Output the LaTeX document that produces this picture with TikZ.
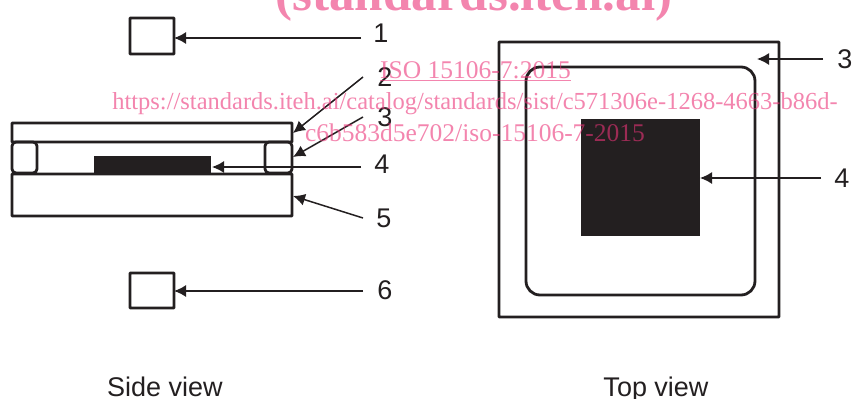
\documentclass[tikz,border=0pt]{standalone}
\usepackage{fontspec}
\setmainfont{Liberation Sans}
\newfontfamily\wmfont{Liberation Serif}
\usetikzlibrary{arrows.meta}
\definecolor{ink}{HTML}{231F20}
\definecolor{wm}{HTML}{EB3378}
\tikzset{
  every node/.style={inner sep=0pt,outer sep=0pt},
  box/.style={draw=ink,line width=2.8pt,rounded corners=0.6pt,anchor=north west},
  softbox/.style={draw=ink,line width=2.8pt,rounded corners=4pt,anchor=north west},
  solidbox/.style={fill=ink,anchor=north west},
  lead/.style={draw=ink,line width=1.5pt,-{Latex[length=12pt,width=12pt]}},
  lab/.style={font=\fontsize{27}{27}\selectfont,text=ink},
  wmark/.style={text=wm,text opacity=0.6,font=\wmfont\fontsize{25.5}{25.5}\selectfont,anchor=base}
}
\newcommand{\szbox}[6]{\node[#1,minimum width=#4pt-#2pt,minimum height=#5pt-#3pt] (#6) at (#2,#3) {};}
\begin{document}
\begin{tikzpicture}[x=1pt,y=-1pt]
\useasboundingbox (0,0) rectangle (852,399);
% side view
\szbox{box}{130}{18}{174}{54}{srcA}
\szbox{box}{130}{273}{174}{308}{srcB}
\szbox{box}{12}{123}{292}{142}{plate}
\szbox{box}{12}{174}{292}{216}{base}
\szbox{softbox}{12}{142}{37}{173}{spacerL}
\szbox{softbox}{265}{142}{292}{173}{spacerR}
\szbox{solidbox}{94}{156}{211}{175}{sample}
% top view
\szbox{box}{499}{42}{779}{317}{outer}
\node[draw=ink,line width=2.8pt,rounded corners=14pt,anchor=north west,minimum width=229pt,minimum height=228pt] (inner) at (526,67) {};
\szbox{solidbox}{581}{119}{700}{236}{chip}
% labels
\node[lab] (l1) at (381,33) {1};
\node[lab] (l2) at (385,77) {2};
\node[lab] (l3) at (385,117) {3};
\node[lab] (l4) at (382,164) {4};
\node[lab] (l5) at (384,218) {5};
\node[lab] (l6) at (385,290) {6};
\node[lab] (r3) at (845,59) {3};
\node[lab] (r4) at (842,178) {4};
\node[lab,anchor=base] (cap1) at (165,396) {Side view};
\node[lab,anchor=base] (cap2) at (656,396) {Top view};
% connector ends
\coordinate (a1) at (361,38);
\coordinate (a2) at (363,77);
\coordinate (a3) at (363,117);
\coordinate (a4) at (361,167);
\coordinate (a5) at (363,218);
\coordinate (a6) at (363,291);
\coordinate (b3) at (823,59);
\coordinate (b4) at (821,178);
\coordinate (t2) at (293,133);
\coordinate (t3) at (293,157);
\coordinate (t4) at (212,167);
\coordinate (t5) at (293,196);
\coordinate (t3r) at (757,59);
\path[lead] (a1) -- (srcA.east |- a1);
\path[lead] (a2) -- (t2);
\path[lead] (a3) -- (t3);
\path[lead] (a4) -- (t4);
\path[lead] (a5) -- (t5);
\path[lead] (a6) -- (srcB.east |- a6);
\path[lead] (b3) -- (t3r);
\path[lead] (b4) -- (chip.east |- b4);
% watermark
\node[wmark,font=\wmfont\bfseries\fontsize{51}{51}\selectfont] (wm0) at (474,10) {(standards.iteh.ai)};
\node[wmark] (wm1) at (475.5,78) {\underline{ISO 15106-7:2015}};
\node[wmark,font=\wmfont\fontsize{24.5}{24.5}\selectfont] (wm2) at (475,109) {https://standards.iteh.ai/catalog/standards/sist/c571306e-1268-4663-b86d-};
\node[wmark] (wm3) at (475,141) {c6b583d5e702/iso-15106-7-2015};
\end{tikzpicture}
\end{document}
